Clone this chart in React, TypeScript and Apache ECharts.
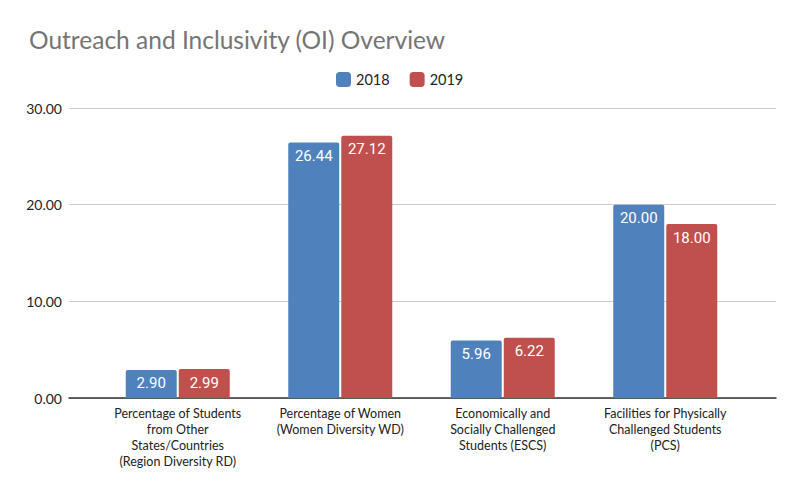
import React, { useEffect, useRef } from "react";
import * as echarts from "echarts";

const categories = [
  "Percentage of Students\nfrom Other\nStates/Countries\n(Region Diversity RD)",
  "Percentage of Women\n(Women Diversity WD)",
  "Economically and\nSocially Challenged\nStudents (ESCS)",
  "Facilities for Physically\nChallenged Students\n(PCS)",
];
const values2018 = [2.9, 26.44, 5.96, 20.0];
const values2019 = [2.99, 27.12, 6.22, 18.0];
const yTicks = { min: 0, max: 30, interval: 10 };

const BLUE = "#4f81bd";
const RED = "#c0504d";
const FONT = "Lato";

export default function App() {
  const ref = useRef<HTMLDivElement>(null);
  useEffect(() => {
    if (!ref.current) return;
    const chart = echarts.init(ref.current, undefined, { renderer: "svg" });
    const barLabel = {
      show: true,
      position: "insideTop" as const,
      distance: 6,
      color: "#ffffff",
      fontSize: 15,
      fontFamily: "Roboto",
      formatter: (p: any) => Number(p.value).toFixed(2),
    };
    chart.setOption({
      animation: false,
      backgroundColor: "#ffffff",
      title: {
        text: "Outreach and Inclusivity (OI) Overview",
        left: 16,
        top: 14,
        textStyle: { color: "#757575", fontSize: 24.5, fontWeight: "normal", fontFamily: FONT },
      },
      legend: {
        top: 59,
        left: 323,
        itemWidth: 15,
        itemHeight: 15,
        itemGap: 20,
        textStyle: { color: "#222", fontSize: 14.5, fontFamily: FONT },
        data: [
          { name: "2018", icon: "roundRect" },
          { name: "2019", icon: "roundRect" },
        ],
      },
      grid: [
        { left: 61, right: 32, top: 100, bottom: 105 },
        { left: 88.5, right: 61.5, top: 100, bottom: 105 },
      ],
      xAxis: [
        {
          gridIndex: 0,
          type: "category",
          data: [""],
          axisLine: { show: true, lineStyle: { color: "#333", width: 1.5 } },
          axisTick: { show: false },
          axisLabel: { show: false },
        },
        {
          gridIndex: 1,
          type: "category",
          data: categories,
          axisLine: { show: false },
          axisTick: { show: false },
          axisLabel: {
            interval: 0,
            color: "#222",
            fontSize: 12.5,
            lineHeight: 16,
            margin: 7,
            fontFamily: FONT,
          },
        },
      ],
      yAxis: [
        {
          gridIndex: 0,
          type: "value",
          ...yTicks,
          axisLine: { show: false },
          axisTick: { show: false },
          splitLine: { lineStyle: { color: "#cccccc", width: 1 } },
          axisLabel: {
            color: "#222",
            fontSize: 14,
            margin: 7,
            fontFamily: FONT,
            formatter: (v: number) => v.toFixed(2),
          },
        },
        {
          gridIndex: 1,
          type: "value",
          ...yTicks,
          show: false,
          splitLine: { show: false },
        },
      ],
      series: [
        {
          name: "2018",
          type: "bar",
          xAxisIndex: 1,
          yAxisIndex: 1,
          data: values2018,
          barGap: "4%",
          barCategoryGap: "36%",
          itemStyle: { color: BLUE, borderRadius: [2, 2, 0, 0] },
          label: barLabel,
        },
        {
          name: "2019",
          type: "bar",
          xAxisIndex: 1,
          yAxisIndex: 1,
          data: values2019,
          barGap: "4%",
          barCategoryGap: "36%",
          itemStyle: { color: RED, borderRadius: [2, 2, 0, 0] },
          label: barLabel,
        },
      ],
    });
    return () => chart.dispose();
  }, []);
  return <div ref={ref} style={{ width: 800, height: 495 }} />;
}
